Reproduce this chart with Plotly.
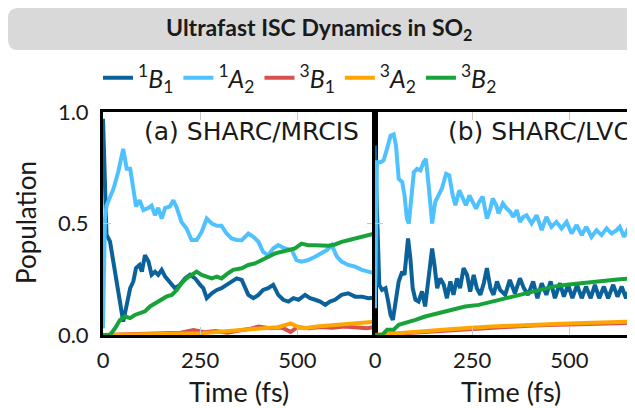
import plotly.graph_objects as go

# The page places the figure 8 px from the window's top-left corner, so the figure is
# 8 px smaller than the 635x408 window and all screen positions below are shifted by 8.
OFF = 8
SW, SH = 635, 408
W, H = SW - OFF, SH - OFF

# ---------------- data: (a) SHARC/MRCIS ----------------
t_a_1B1 = [0, 4, 9, 18, 27, 35, 44, 52, 61, 70, 78, 85, 94, 100, 108, 117, 125, 134, 142, 151, 160, 172, 185,
           198, 211, 224, 237, 250, 258, 267, 280, 293, 305, 318, 331, 344, 357, 374, 387, 400, 412, 425, 438,
           451, 464, 477, 490, 503, 520, 533, 546, 559, 572, 584, 597, 614, 631, 649, 666, 683, 700]
p_a_1B1 = [0.97, 0.70, 0.45, 0.42, 0.33, 0.24, 0.15, 0.06, 0.135, 0.21, 0.24, 0.30, 0.314, 0.284, 0.358, 0.33,
           0.27, 0.284, 0.27, 0.292, 0.262, 0.24, 0.21, 0.225, 0.254, 0.27, 0.254, 0.225, 0.21, 0.165, 0.187,
           0.202, 0.21, 0.225, 0.24, 0.254, 0.247, 0.18, 0.165, 0.18, 0.202, 0.21, 0.225, 0.18, 0.158, 0.15,
           0.165, 0.158, 0.18, 0.165, 0.158, 0.15, 0.135, 0.15, 0.158, 0.18, 0.187, 0.172, 0.172, 0.165, 0.168]

t_a_1A2 = [0, 5, 9, 27, 39, 52, 61, 70, 78, 85, 94, 104, 117, 125, 134, 142, 151, 160, 172, 181, 190, 202, 215,
           228, 241, 254, 267, 280, 293, 305, 318, 331, 344, 357, 374, 387, 400, 412, 425, 438, 451, 468, 486,
           498, 511, 528, 546, 563, 576, 589, 602, 614, 631, 649, 666, 683, 700]
p_a_1A2 = [0.03, 0.52, 0.58, 0.656, 0.73, 0.835, 0.745, 0.745, 0.656, 0.576, 0.604, 0.56, 0.57, 0.58, 0.537,
           0.57, 0.522, 0.57, 0.576, 0.604, 0.57, 0.507, 0.478, 0.426, 0.426, 0.463, 0.522, 0.50, 0.49, 0.49,
           0.455, 0.433, 0.426, 0.425, 0.455, 0.44, 0.418, 0.373, 0.358, 0.388, 0.403, 0.388, 0.38, 0.336,
           0.329, 0.336, 0.351, 0.366, 0.381, 0.403, 0.351, 0.329, 0.314, 0.306, 0.292, 0.284, 0.277]

t_a_3B1 = [0, 50, 100, 150, 200, 233, 260, 290, 320, 350, 380, 400, 430, 460, 483, 500, 530, 560, 590, 620,
           650, 680, 700]
p_a_3B1 = [0.0, 0.002, 0.004, 0.006, 0.01, 0.022, 0.012, 0.018, 0.01, 0.02, 0.028, 0.038, 0.03, 0.034, 0.014,
           0.035, 0.03, 0.036, 0.032, 0.038, 0.034, 0.03, 0.036]

t_a_3A2 = [0, 50, 100, 150, 200, 255, 300, 342, 380, 412, 450, 470, 483, 500, 518, 550, 580, 605, 640, 670, 700]
p_a_3A2 = [0.0, 0.001, 0.002, 0.004, 0.006, 0.008, 0.015, 0.022, 0.025, 0.03, 0.035, 0.045, 0.052, 0.038,
           0.03, 0.038, 0.042, 0.045, 0.05, 0.055, 0.06]

t_a_3B2 = [0, 18, 31, 44, 57, 70, 82, 95, 108, 121, 134, 147, 164, 177, 190, 202, 215, 228, 241, 254, 267, 280,
           293, 305, 322, 335, 357, 374, 391, 408, 425, 443, 460, 477, 494, 511, 528, 546, 563, 580, 597, 614,
           631, 649, 666, 683, 700]
p_a_3B2 = [0.0, 0.0, 0.03, 0.068, 0.083, 0.076, 0.09, 0.098, 0.106, 0.128, 0.143, 0.158, 0.173, 0.18, 0.202,
           0.232, 0.254, 0.269, 0.284, 0.269, 0.262, 0.254, 0.262, 0.254, 0.277, 0.292, 0.299, 0.314, 0.321,
           0.336, 0.351, 0.366, 0.373, 0.381, 0.388, 0.41, 0.403, 0.403, 0.40, 0.40, 0.406, 0.418, 0.425,
           0.433, 0.44, 0.448, 0.455]

# ---------------- data: (b) SHARC/LVC ----------------
t_b_1B1 = [0, 5, 11, 18, 27, 34, 40, 46, 52, 61, 70, 76, 85, 91, 97, 104, 112, 121, 129, 138, 147, 153, 160,
           168, 177, 185, 194, 202, 211, 219, 228, 237, 245, 254, 262, 271, 280, 288, 297, 305, 314, 322, 335,
           347, 360, 373, 383, 394, 407, 418, 429, 441, 452, 463, 476, 486, 497, 508, 520, 532, 543, 555, 566,
           577, 589, 600, 613, 624, 635, 646, 658, 669]
p_b_1B1 = [0.85, 0.6, 0.225, 0.202, 0.21, 0.15, 0.09, 0.068, 0.135, 0.24, 0.284, 0.27, 0.433, 0.344, 0.21,
           0.158, 0.15, 0.195, 0.128, 0.27, 0.388, 0.314, 0.21, 0.254, 0.225, 0.165, 0.24, 0.18, 0.254, 0.21,
           0.30, 0.269, 0.195, 0.269, 0.21, 0.18, 0.232, 0.30, 0.21, 0.18, 0.24, 0.202, 0.18, 0.247, 0.187,
           0.254, 0.21, 0.18, 0.24, 0.165, 0.232, 0.18, 0.24, 0.165, 0.232, 0.172, 0.225, 0.165, 0.225, 0.165,
           0.217, 0.165, 0.225, 0.165, 0.217, 0.165, 0.225, 0.172, 0.217, 0.165, 0.217, 0.20]

t_b_1A2 = [0, 3, 5, 14, 22, 31, 40, 48, 54, 61, 70, 76, 82, 87, 94, 100, 108, 117, 125, 131, 138, 147, 155, 164,
           172, 183, 191, 200, 207, 217, 226, 234, 243, 251, 260, 268, 277, 288, 297, 303, 312, 318, 329, 339,
           348, 356, 365, 373, 382, 390, 403, 416, 429, 441, 454, 467, 480, 493, 506, 519, 532, 544, 557, 570,
           583, 596, 609, 622, 630, 641, 652, 663, 670]
p_b_1A2 = [0.12, 0.5, 0.775, 0.775, 0.783, 0.835, 0.894, 0.90, 0.85, 0.70, 0.686, 0.626, 0.522, 0.50, 0.626,
           0.73, 0.745, 0.738, 0.775, 0.79, 0.671, 0.50, 0.597, 0.626, 0.656, 0.723, 0.716, 0.626, 0.582,
           0.649, 0.61, 0.582, 0.626, 0.597, 0.567, 0.597, 0.62, 0.522, 0.567, 0.612, 0.582, 0.545, 0.59,
           0.567, 0.552, 0.53, 0.56, 0.507, 0.53, 0.537, 0.50, 0.537, 0.47, 0.53, 0.485, 0.507, 0.478, 0.507,
           0.455, 0.493, 0.448, 0.485, 0.44, 0.47, 0.448, 0.478, 0.455, 0.47, 0.485, 0.44, 0.478, 0.425, 0.43]

t_b_3B1 = [0, 44, 100, 150, 200, 250, 300, 350, 421, 500, 560, 620, 670]
p_b_3B1 = [0.0, 0.005, 0.012, 0.018, 0.024, 0.03, 0.033, 0.037, 0.044, 0.048, 0.05, 0.053, 0.055]

t_b_3A2 = [0, 44, 100, 150, 200, 250, 300, 350, 421, 500, 560, 620, 670]
p_b_3A2 = [0.0, 0.007, 0.013, 0.02, 0.027, 0.034, 0.038, 0.042, 0.048, 0.052, 0.055, 0.058, 0.06]

t_b_3B2 = [0, 18, 31, 48, 61, 78, 104, 129, 164, 198, 232, 267, 301, 331, 356, 390, 425, 459, 493, 528, 562,
           596, 630, 665, 670]
p_b_3B2 = [0.0, 0.0, 0.024, 0.024, 0.046, 0.054, 0.068, 0.083, 0.098, 0.113, 0.128, 0.135, 0.15, 0.163, 0.172,
           0.187, 0.202, 0.217, 0.225, 0.232, 0.24, 0.247, 0.25, 0.254, 0.255]

state_names = ["<sup>1</sup><i>B</i><sub>1</sub>", "<sup>1</sup><i>A</i><sub>2</sub>",
               "<sup>3</sup><i>B</i><sub>1</sub>", "<sup>3</sup><i>A</i><sub>2</sub>",
               "<sup>3</sup><i>B</i><sub>2</sub>"]
state_colors = ["#0b6199", "#4fc1ff", "#d65050", "#ffa500", "#17a33a"]

panel_a = [(t_a_1B1, p_a_1B1), (t_a_1A2, p_a_1A2), (t_a_3B1, p_a_3B1), (t_a_3A2, p_a_3A2), (t_a_3B2, p_a_3B2)]
panel_b = [(t_b_1B1, p_b_1B1), (t_b_1A2, p_b_1A2), (t_b_3B1, p_b_3B1), (t_b_3A2, p_b_3A2), (t_b_3B2, p_b_3B2)]

x_ticks = [0, 250, 500]
y_ticks = [0, 0.5, 1.0]
y_ticktext = ["0.0", "0.5", "1.0"]

FONT = "Lato"
PANEL_FONT = "DejaVu Sans"
TXT = "#1a1a1a"

fig = go.Figure()
for i, ((ta, pa), (tb, pb)) in enumerate(zip(panel_a, panel_b)):
    fig.add_trace(go.Scatter(x=ta, y=pa, mode="lines", name=state_names[i], legendgroup=str(i),
                             line=dict(color=state_colors[i], width=4), xaxis="x", yaxis="y"))
    fig.add_trace(go.Scatter(x=tb, y=pb, mode="lines", name=state_names[i], legendgroup=str(i),
                             showlegend=False,
                             line=dict(color=state_colors[i], width=4), xaxis="x2", yaxis="y2"))

# screen pixel -> paper fraction
px = lambda v: (v - OFF) / W
py = lambda v: 1 - (v - OFF) / H

left0, mid, right_full = 103, 375, 647
top, bottom = 112, 335
xmax = 700
xmax_b = xmax * (SW - mid) / (right_full - mid)

axis_common = dict(showline=True, linecolor="black", linewidth=3, mirror="ticks",
                   ticks="inside", ticklen=8, tickwidth=1, tickcolor="#c8c8c8",
                   showgrid=False, zeroline=False,
                   tickfont=dict(family=FONT, size=22, color=TXT))

fig.update_layout(
    width=W, height=H,
    margin=dict(l=0, r=0, t=0, b=0, autoexpand=False),
    paper_bgcolor="white", plot_bgcolor="white",
    font=dict(family=FONT, color=TXT),
    xaxis=dict(domain=[px(left0), px(mid)], range=[0, xmax], tickvals=x_ticks, anchor="y",
               ticklabelstandoff=4, **axis_common),
    yaxis=dict(domain=[py(bottom), py(top)], range=[0, 1], tickvals=y_ticks, ticktext=y_ticktext,
               anchor="x", ticklabelstandoff=7, **axis_common),
    xaxis2=dict(domain=[px(mid), 1.0], range=[0, xmax_b], tickvals=x_ticks, anchor="y2",
                ticklabelstandoff=4, **axis_common),
    yaxis2=dict(domain=[py(bottom), py(top)], range=[0, 1], tickvals=y_ticks, showticklabels=False,
                anchor="x2", **{**axis_common, "mirror": False}),
    showlegend=True,
    legend=dict(orientation="h", x=px(98), y=py(55), xanchor="left", yanchor="top",
                font=dict(family=FONT, size=25, color=TXT), bgcolor="rgba(0,0,0,0)",
                itemwidth=30, tracegroupgap=0),
)

# title banner (rounded grey box, extends past right edge)
x0, x1, yt, yb = px(OFF), px(670), py(OFF), py(50)
rx, ry = 10 / W, 10 / H
banner = (f"M {x0+rx},{yt} L {x1},{yt} L {x1},{yb} L {x0+rx},{yb} "
          f"Q {x0},{yb} {x0},{yb+ry} L {x0},{yt-ry} Q {x0},{yt} {x0+rx},{yt} Z")
fig.add_shape(type="path", path=banner, xref="paper", yref="paper", fillcolor="#d9d9d9",
              line=dict(width=0), layer="below")

fig.add_annotation(text="<b>Ultrafast ISC Dynamics in SO<sub>2</sub></b>", x=px(319), y=py(29),
                   xref="paper", yref="paper", showarrow=False, xanchor="center", yanchor="middle",
                   font=dict(family=FONT, size=23, color=TXT))

fig.add_annotation(text="(a) SHARC/MRCIS", x=px(361), y=py(131), xref="paper", yref="paper",
                   showarrow=False, xanchor="right", yanchor="middle",
                   font=dict(family=PANEL_FONT, size=25, color=TXT))
fig.add_annotation(text="(b) SHARC/LVC", x=px(633), y=py(131), xref="paper", yref="paper",
                   showarrow=False, xanchor="right", yanchor="middle",
                   font=dict(family=PANEL_FONT, size=25, color=TXT))

fig.add_annotation(text="Population", x=px(26), y=py(223), xref="paper", yref="paper", textangle=-90,
                   showarrow=False, xanchor="center", yanchor="middle",
                   font=dict(family=FONT, size=26, color=TXT))
for cx in [(left0 + mid) / 2, (mid + right_full) / 2]:
    fig.add_annotation(text="Time (fs)", x=px(cx), y=py(391), xref="paper", yref="paper",
                       showarrow=False, xanchor="center", yanchor="middle",
                       font=dict(family=FONT, size=27, color=TXT))

fig.write_html("out.html")
